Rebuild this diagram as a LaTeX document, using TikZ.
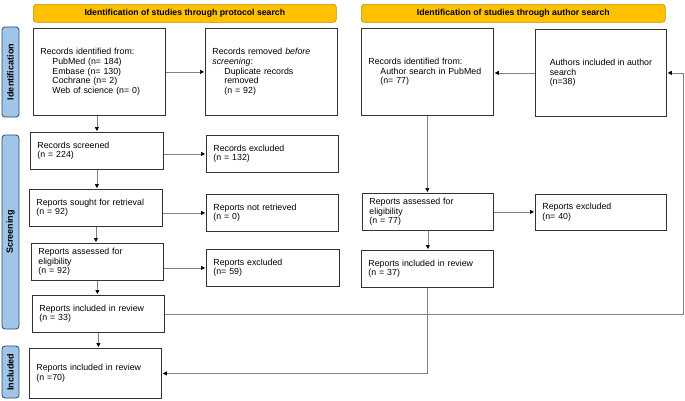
\documentclass[tikz,border=0pt]{standalone}
\usepackage{fontspec}
\setmainfont{Liberation Sans}
\usetikzlibrary{arrows.meta,positioning}

\definecolor{headyellow}{HTML}{FFC000}
\definecolor{headedge}{HTML}{BF9000}
\definecolor{sideblue}{HTML}{9FC5E8}
\definecolor{sideedge}{HTML}{2F4A66}
\definecolor{linegray}{HTML}{808080}

\newcommand{\ind}{\hspace*{12pt}}

\begin{document}
\begin{tikzpicture}[x=1pt,y=-1pt,
  font=\fontsize{8.8}{9.6}\selectfont,
  rec/.style 2 args={draw=black!80,line width=0.8pt,anchor=north west,align=left,
    inner xsep=7pt,inner ysep=0pt,text width=#1,minimum height=#2},
  head/.style={draw=headedge,fill=headyellow,rounded corners=3pt,line width=0.6pt,
    anchor=north west,inner sep=0pt,minimum height=18pt,
    font=\fontsize{8.7}{10}\selectfont\bfseries},
  side/.style={draw=sideedge,fill=sideblue,rounded corners=3pt,line width=0.8pt,
    rotate=90,inner sep=0pt,minimum height=17pt,
    font=\fontsize{9}{10}\selectfont\bfseries},
  arr/.style={draw=linegray,line width=0.7pt,shorten >=1pt,
    -{Triangle[black,length=4pt,width=4pt]}},
  link/.style={draw=linegray,line width=0.7pt}]
  \useasboundingbox (0,0) rectangle (685,400);

  % headers and phase labels
  \node[head,minimum width=303pt] (head1) at (33,4) {Identification of studies through protocol search};
  \node[head,minimum width=304pt] (head2) at (361,4) {Identification of studies through author search};
  \node[side,minimum width=90pt] (sideid) at (10.5,72) {Identification};
  \node[side,minimum width=194pt] (sidescr) at (10.5,232) {Screening};
  \node[side,minimum width=52pt] (sideinc) at (10.5,372) {Included};

  % protocol search
  \node[rec={118pt}{87pt}] (id1) at (33,28) {Records identified from:\\
    \ind PubMed (n= 184)\\ \ind Embase (n= 130)\\ \ind Cochrane (n= 2)\\ \ind Web of science (n= 0)};
  \node[rec={118pt}{87pt}] (rem) at (205,28) {Records removed \emph{before}\\ \emph{screening}:\\
    \ind Duplicate records\\ \ind removed\\ \ind (n = 92)};
  \node[rec={119pt}{37pt}] (scr) at (30,132) {Records screened\\ (n = 224)};
  \node[rec={118pt}{37pt}] (exc1) at (206,135) {Records excluded\\ (n = 132)};
  \node[rec={119pt}{37pt}] (sought) at (29,189) {Reports sought for retrieval\\ (n = 92)};
  \node[rec={118pt}{37pt}] (notret) at (206,194) {Reports not retrieved\\ (n = 0)};
  \node[rec={118pt}{37pt}] (elig1) at (31,243) {Reports assessed for\\ eligibility\\ (n = 92)};
  \node[rec={119pt}{37pt}] (exc2) at (206,249) {Reports excluded\\ (n= 59)};
  \node[rec={118pt}{37pt}] (rev1) at (32,295) {Reports included in review\\ (n = 33)};
  \node[rec={118pt}{50pt}] (final) at (29,348) {Reports included in review\\ (n =70)};

  % author search
  \node[rec={118pt}{87pt}] (id2) at (361,28) {Records identified from:\\
    \ind Author search in PubMed\\ \ind (n= 77)};
  \node[draw=black!80,line width=0.8pt,anchor=north west,align=left,inner sep=0pt,
    minimum width=131pt,minimum height=87pt] (auth) at (535,29) {Authors included in author\\ search\\ (n=38)};
  \node[rec={117pt}{37pt}] (elig2) at (362,193) {Reports assessed for\\ eligibility\\ (n = 77)};
  \node[rec={117pt}{36pt}] (exc3) at (535,194) {Reports excluded\\ (n= 40)};
  \node[rec={118pt}{37pt}] (rev2) at (361,250) {Reports included in review\\ (n = 37)};
  \coordinate (loop) at (683,314);

  % connectors
  \draw[arr] (id1.east) -- (rem.west);
  \draw[arr] (scr.north |- id1.south) -- (scr.north);
  \draw[arr] (scr.east |- exc1.west) -- (exc1.west);
  \draw[arr] (scr.south) -- (scr.south |- sought.north);
  \draw[arr] (sought.east |- notret.west) -- (notret.west);
  \draw[arr] (sought.south) -- (sought.south |- elig1.north);
  \draw[arr] (elig1.east |- exc2.west) -- (exc2.west);
  \draw[arr] (elig1.south) -- (elig1.south |- rev1.north);
  \draw[arr] (rev1.south) -- (rev1.south |- final.north);
  \draw[arr] (auth.west) -- (auth.west -| id2.east);
  \draw[arr] (id2.south) -- (id2.south |- elig2.north);
  \draw[arr] (elig2.east) -- (elig2.east -| exc3.west);
  \draw[arr] (elig2.south) -- (elig2.south |- rev2.north);
  \draw[arr] (rev2.south) |- (final.east);
  \draw[arr] (rev1.east) -- (rev1.east -| loop) |- (auth.east);
\end{tikzpicture}
\end{document}
